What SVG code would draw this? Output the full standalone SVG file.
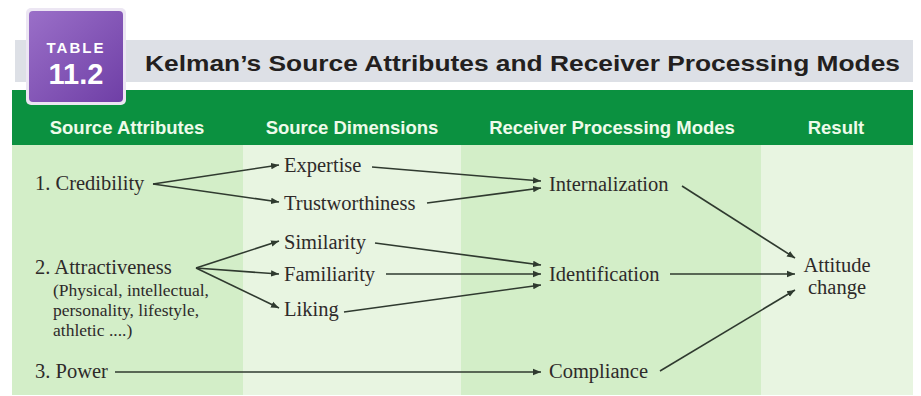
<svg xmlns="http://www.w3.org/2000/svg" width="921" height="396" viewBox="0 0 921 396">
<defs>
<linearGradient id="purp" x1="0" y1="0" x2="1" y2="1">
<stop offset="0" stop-color="#9a6fc8"/>
<stop offset="1" stop-color="#6f3fa6"/>
</linearGradient>
<marker id="ah" viewBox="0 0 10 10" refX="10" refY="5" markerWidth="8" markerHeight="8" markerUnits="userSpaceOnUse" orient="auto">
<path d="M0,1 L10,5 L0,9 Z" fill="#2f3a2f"/>
</marker>
<style>
.hdr{font-family:"Liberation Sans",Arial,sans-serif;font-weight:bold;font-size:18.5px;fill:#eefbea;text-anchor:middle}
.t{font-family:"Liberation Serif","Times New Roman",serif;font-size:20.5px;fill:#2e2a2a}
.s{font-family:"Liberation Serif","Times New Roman",serif;font-size:17.5px;fill:#2e2a2a}
.c{stroke:#2f3a2f;stroke-width:1.6;fill:none;marker-end:url(#ah)}
</style>
</defs>
<rect width="921" height="396" fill="#ffffff"/>
<!-- title band -->
<rect x="15" y="40" width="898" height="42" fill="#dde0e6"/>
<text x="145" y="71" font-family="Liberation Sans,Arial,sans-serif" font-weight="bold" font-size="22.5" fill="#231f20" textLength="755" lengthAdjust="spacingAndGlyphs">Kelman’s Source Attributes and Receiver Processing Modes</text>
<!-- green header -->
<rect x="12" y="90" width="901" height="55" fill="#0b9140"/>
<!-- body columns -->
<rect x="12" y="145" width="231" height="250" fill="#d3eec8"/>
<rect x="243" y="145" width="218" height="250" fill="#e8f5e1"/>
<rect x="461" y="145" width="300" height="250" fill="#d3eec8"/>
<rect x="761" y="145" width="152" height="250" fill="#e8f5e1"/>
<!-- badge -->
<g id="badge">
<rect x="26" y="8" width="100" height="97" rx="5" fill="#ece6f3"/>
<rect x="29" y="11" width="94" height="91" rx="4" fill="url(#purp)"/>
<text x="76" y="53" font-family="Liberation Sans,Arial,sans-serif" font-weight="bold" font-size="15" fill="#ffffff" text-anchor="middle" letter-spacing="2">TABLE</text>
<text x="76" y="84" font-family="Liberation Sans,Arial,sans-serif" font-weight="bold" font-size="29" fill="#ffffff" text-anchor="middle">11.2</text>
</g>
<g id="headers">
<text class="hdr" x="127" y="134">Source Attributes</text>
<text class="hdr" x="352" y="134">Source Dimensions</text>
<text class="hdr" x="612" y="134">Receiver Processing Modes</text>
<text class="hdr" x="836" y="134">Result</text>
</g>
<g id="credibility"><text class="t" x="35" y="190">1. Credibility</text></g>
<g id="attractiveness">
<text class="t" x="35" y="274">2. Attractiveness</text>
<text class="s" x="53" y="296">(Physical, intellectual,</text>
<text class="s" x="53" y="316">personality, lifestyle,</text>
<text class="s" x="53" y="336">athletic ....)</text>
</g>
<g id="power"><text class="t" x="35" y="378">3. Power</text></g>
<g id="expertise"><text class="t" x="284" y="172">Expertise</text></g>
<g id="trustworthiness"><text class="t" x="284" y="210">Trustworthiness</text></g>
<g id="similarity"><text class="t" x="284" y="249">Similarity</text></g>
<g id="familiarity"><text class="t" x="284" y="281">Familiarity</text></g>
<g id="liking"><text class="t" x="284" y="316">Liking</text></g>
<g id="internalization"><text class="t" x="549" y="191">Internalization</text></g>
<g id="identification"><text class="t" x="549" y="281">Identification</text></g>
<g id="compliance"><text class="t" x="549" y="378">Compliance</text></g>
<g id="attitude">
<text class="t" x="837" y="272" text-anchor="middle">Attitude</text>
<text class="t" x="837" y="294" text-anchor="middle">change</text>
</g>
<g id="connectors">
<path class="c" d="M153,184 L279,165"/>
<path class="c" d="M153,184 L279,202"/>
<path class="c" d="M372,167 L541,181"/>
<path class="c" d="M427,203 L541,188"/>
<path class="c" d="M196,268 L279,241"/>
<path class="c" d="M196,268 L279,274"/>
<path class="c" d="M196,268 L279,308"/>
<path class="c" d="M375,243 L541,265"/>
<path class="c" d="M386,274 L541,274"/>
<path class="c" d="M344,312 L541,285"/>
<path class="c" d="M115,372 L541,372"/>
<path class="c" d="M682,186 L795,258"/>
<path class="c" d="M670,274 L795,274"/>
<path class="c" d="M660,371 L795,290"/>
</g>
</svg>
